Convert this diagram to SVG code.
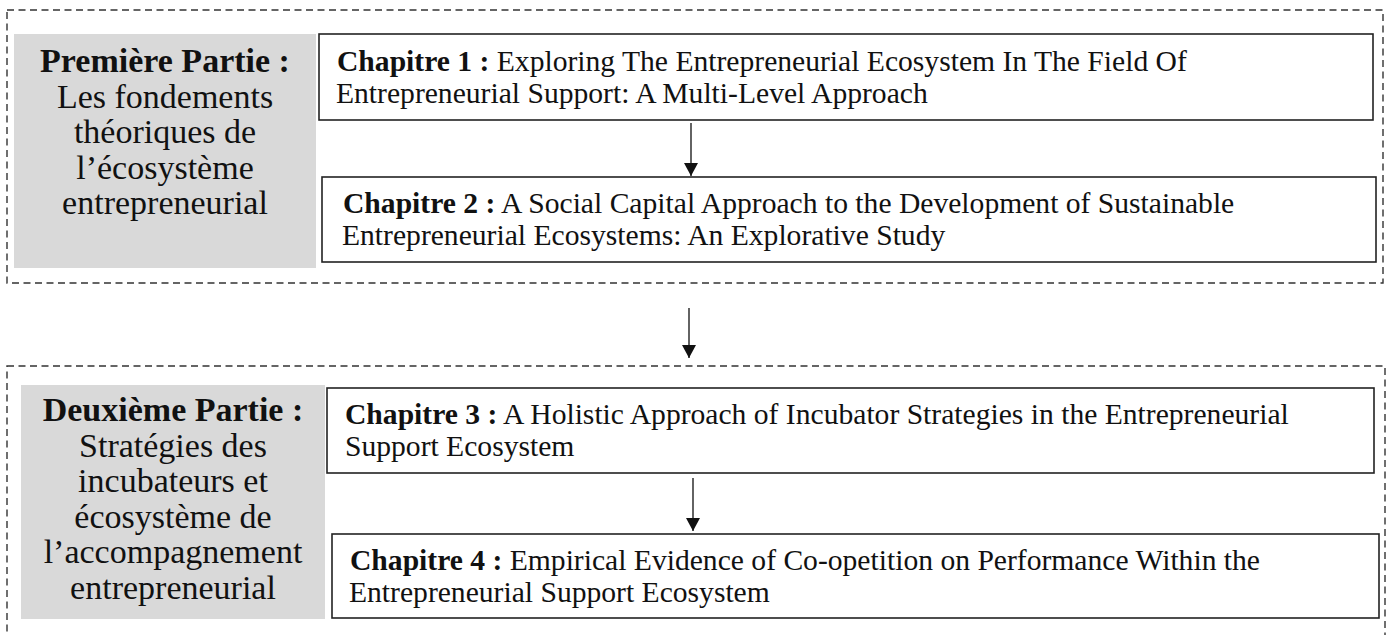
<svg xmlns="http://www.w3.org/2000/svg" width="1389" height="635" viewBox="0 0 1389 635">
<defs>
<style>
.part{fill:none;stroke:#333;stroke-width:1.4;stroke-dasharray:7 4.5}
.grey{fill:#d9d9d9;stroke:none}
.chap{fill:#fff;stroke:#222;stroke-width:1.6}
.lt{font-family:"Liberation Serif","Times New Roman",serif;font-size:34px;fill:#111;text-anchor:middle}
.ct{font-family:"Liberation Serif","Times New Roman",serif;font-size:29.6px;fill:#111}
.b{font-weight:bold}
.conn{stroke:#222;stroke-width:1.4;fill:none}
</style>
<marker id="ah" markerWidth="15" markerHeight="14" refX="13" refY="7" orient="auto" markerUnits="userSpaceOnUse">
<path d="M0,0 L13,7 L0,14 Z" fill="#111"/>
</marker>
</defs>
<rect width="1389" height="635" fill="#fff"/>

<g id="part1">
<rect class="part" x="7" y="10" width="1376" height="273"/>
<rect class="grey" x="14" y="34" width="302" height="234"/>
<text class="lt" x="165"><tspan class="b" x="165" y="72">Première Partie :</tspan><tspan x="165" y="107.5">Les fondements</tspan><tspan x="165" y="143">théoriques de</tspan><tspan x="165" y="178.5">l’écosystème</tspan><tspan x="165" y="214">entrepreneurial</tspan></text>
</g>

<g id="chap1">
<rect class="chap" x="319" y="34" width="1054" height="86"/>
<text class="ct"><tspan x="337" y="71"><tspan class="b">Chapitre 1 :</tspan> Exploring The Entrepreneurial Ecosystem In The Field Of</tspan><tspan x="336" y="103">Entrepreneurial Support: A Multi-Level Approach</tspan></text>
</g>

<g id="chap2">
<rect class="chap" x="322" y="177" width="1054" height="85"/>
<text class="ct"><tspan x="343" y="213"><tspan class="b">Chapitre 2 :</tspan> A Social Capital Approach to the Development of Sustainable</tspan><tspan x="342" y="245">Entrepreneurial Ecosystems: An Explorative Study</tspan></text>
</g>

<g id="part2">
<rect class="part" x="7" y="366" width="1378" height="290"/>
<rect class="grey" x="21" y="385" width="304" height="234"/>
<text class="lt" x="173"><tspan class="b" x="173" y="421">Deuxième Partie :</tspan><tspan x="173" y="456.6">Stratégies des</tspan><tspan x="173" y="492.2">incubateurs et</tspan><tspan x="173" y="527.8">écosystème de</tspan><tspan x="173" y="563.4">l’accompagnement</tspan><tspan x="173" y="599">entrepreneurial</tspan></text>
</g>

<g id="chap3">
<rect class="chap" x="327" y="388" width="1047" height="85"/>
<text class="ct"><tspan x="345" y="424"><tspan class="b">Chapitre 3 :</tspan> A Holistic Approach of Incubator Strategies in the Entrepreneurial</tspan><tspan x="345" y="456">Support Ecosystem</tspan></text>
</g>

<g id="chap4">
<rect class="chap" x="332" y="534" width="1047" height="84"/>
<text class="ct"><tspan x="350" y="570"><tspan class="b">Chapitre 4 :</tspan> Empirical Evidence of Co-opetition on Performance Within the</tspan><tspan x="349" y="602">Entrepreneurial Support Ecosystem</tspan></text>
</g>

<g id="connectors">
<line class="conn" x1="691" y1="123" x2="691" y2="176" marker-end="url(#ah)"/>
<line class="conn" x1="689" y1="308" x2="689" y2="358" marker-end="url(#ah)"/>
<line class="conn" x1="693" y1="478" x2="693" y2="531" marker-end="url(#ah)"/>
</g>
</svg>
